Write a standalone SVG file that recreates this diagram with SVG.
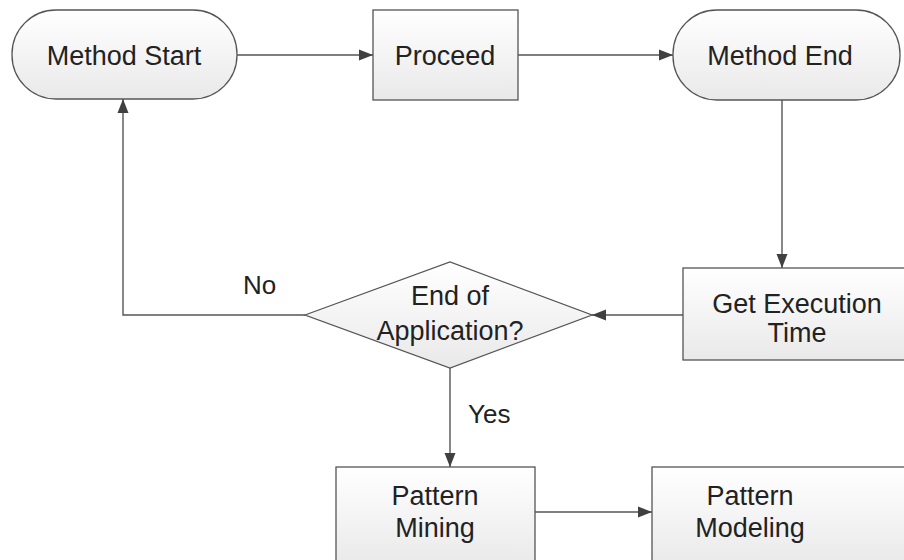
<svg xmlns="http://www.w3.org/2000/svg" width="904" height="560" viewBox="0 0 904 560">
<defs>
<linearGradient id="g" x1="0" y1="0" x2="0" y2="1">
<stop offset="0" stop-color="#ffffff"/>
<stop offset="1" stop-color="#e9e9e9"/>
</linearGradient>
<marker id="arr" markerWidth="16" markerHeight="14" refX="14" refY="7" orient="auto" markerUnits="userSpaceOnUse">
<path d="M0,1.5 L14,7 L0,12.5 Z" fill="#404040"/>
</marker>
<style>
.n{fill:url(#g);stroke:#555555;stroke-width:1.3}
.t{font-family:"Liberation Sans",Arial,sans-serif;font-size:27px;fill:#222222;text-anchor:middle}
.c{fill:none;stroke:#555555;stroke-width:1.4;marker-end:url(#arr)}
.l{font-family:"Liberation Sans",Arial,sans-serif;font-size:26px;fill:#222222}
</style>
</defs>
<rect width="904" height="560" fill="#ffffff"/>
<g id="connectors">
<path class="c" d="M237,55 H373"/>
<path class="c" d="M518,55 H673"/>
<path class="c" d="M782,100 V268"/>
<path class="c" d="M683,315 H592"/>
<path class="c" d="M305,315 H123 V99"/>
<path class="c" d="M450,368 V467"/>
<path class="c" d="M535,512 H652"/>
<text class="l" x="243" y="294">No</text>
<text class="l" x="468" y="423">Yes</text>
</g>
<g id="method-start">
<rect class="n" x="12" y="10" width="225" height="89" rx="44" ry="44"/>
<text class="t" x="124" y="65">Method Start</text>
</g>
<g id="proceed">
<rect class="n" x="373" y="10" width="145" height="90"/>
<text class="t" x="445" y="65">Proceed</text>
</g>
<g id="method-end">
<rect class="n" x="673" y="10" width="227" height="90" rx="44" ry="44"/>
<text class="t" x="780" y="65">Method End</text>
</g>
<g id="get-execution-time">
<rect class="n" x="683" y="268" width="230" height="92"/>
<text class="t" x="797" y="313">Get Execution</text>
<text class="t" x="797" y="342">Time</text>
</g>
<g id="end-of-application">
<polygon class="n" points="305,315 450,262 592,315 450,368"/>
<text class="t" x="450" y="305">End of</text>
<text class="t" x="450" y="340">Application?</text>
</g>
<g id="pattern-mining">
<rect class="n" x="336" y="467" width="199" height="100"/>
<text class="t" x="435" y="505">Pattern</text>
<text class="t" x="435" y="537">Mining</text>
</g>
<g id="pattern-modeling">
<rect class="n" x="652" y="467" width="260" height="100"/>
<text class="t" x="750" y="505">Pattern</text>
<text class="t" x="750" y="537">Modeling</text>
</g>
</svg>
